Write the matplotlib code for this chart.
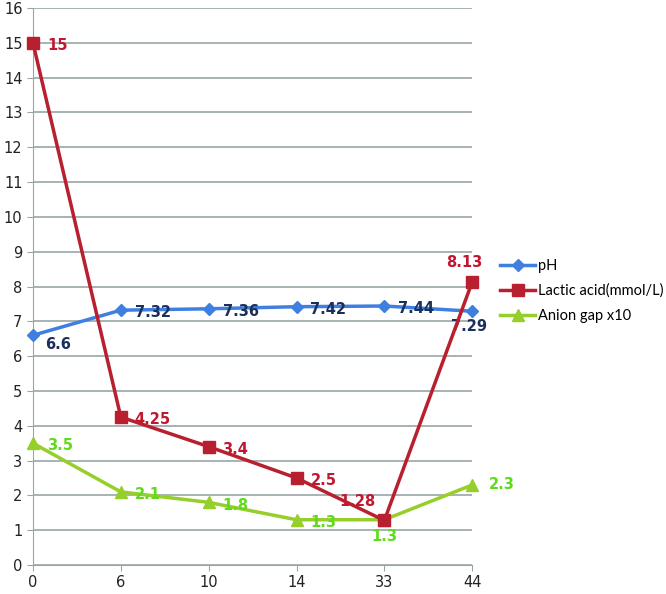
import matplotlib
matplotlib.use("Agg")
import matplotlib.pyplot as plt

categories = ["0", "6", "10", "14", "33", "44"]
ph = [6.6, 7.32, 7.36, 7.42, 7.44, 7.29]
lactic = [15, 4.25, 3.4, 2.5, 1.28, 8.13]
anion = [3.5, 2.1, 1.8, 1.3, 1.3, 2.3]
ph_labels = ["6.6", "7.32", "7.36", "7.42", "7.44", "7.29"]
lactic_labels = ["15", "4.25", "3.4", "2.5", "1.28", "8.13"]
anion_labels = ["3.5", "2.1", "1.8", "1.3", "1.3", "2.3"]

plt.rcParams['font.family'] = ['DejaVu Sans']

fig = plt.figure(figsize=(6.66, 5.94), dpi=100)
ax = fig.add_axes([0.0495, 0.0488, 0.6595, 0.9377])

x = list(range(len(categories)))
c_ph, c_lac, c_an = "#3F7FE0", "#B8202F", "#96CF2A"
t_ph, t_lac, t_an = "#1A2F5A", "#C01830", "#5EDB1A"

ax.plot(x, ph, color=c_ph, lw=2.5, marker="D", ms=6, label="pH", zorder=3, clip_on=False)
ax.plot(x, lactic, color=c_lac, lw=2.5, marker="s", ms=8, label="Lactic acid(mmol/L)", zorder=4, clip_on=False)
ax.plot(x, anion, color=c_an, lw=2.5, marker="^", ms=9, label="Anion gap x10", zorder=3, clip_on=False)

fs = 10.5
def lab(i, y, s, c, dx=14, dy=0, ha="left", va="center"):
    ax.annotate(s, (x[i], y), xytext=(dx, dy), textcoords="offset points",
                ha=ha, va=va, color=c, fontsize=fs, fontweight="bold")

# pH labels
lab(0, ph[0], ph_labels[0], t_ph, dx=9, dy=-7)
for i in range(1, 5):
    lab(i, ph[i], ph_labels[i], t_ph, dx=10, dy=-2)
lab(5, ph[5], ph_labels[5], t_ph, dx=-2, dy=-11, ha="center")

# Lactic labels
for i in range(0, 4):
    lab(i, lactic[i], lactic_labels[i], t_lac, dx=10, dy=-2)
lab(4, lactic[4], lactic_labels[4], t_lac, dx=-6, dy=14, ha="right")
lab(5, lactic[5], lactic_labels[5], t_lac, dx=-6, dy=14, ha="center")

# Anion labels
for i in range(0, 4):
    lab(i, anion[i], anion_labels[i], t_an, dx=10, dy=-2)
lab(4, anion[4], anion_labels[4], t_an, dx=0, dy=-12, ha="center")
lab(5, anion[5], anion_labels[5], t_an, dx=12, dy=0)

ax.set_xlim(0, 5)
ax.set_ylim(0, 16)
ax.set_yticks(range(0, 17))
ax.set_xticks(x)
ax.set_xticklabels(categories)
ax.grid(axis="y", color="#9AA5A5", lw=1.2)
ax.set_axisbelow(True)
for s in ["top", "right"]:
    ax.spines[s].set_visible(False)
ax.spines["left"].set_color("#9AA5A5")
ax.spines["bottom"].set_color("#9AA5A5")
ax.tick_params(axis="both", colors="#9AA5A5", labelcolor="#222222", labelsize=10.5, length=4)
ax.tick_params(axis="x", pad=3)

ax.legend(loc="center left", bbox_to_anchor=(500 / 666, 1 - 291 / 594),
          bbox_transform=fig.transFigure, frameon=False,
          prop={"family": ["Lato", "DejaVu Sans"], "size": 10.5},
          handlelength=2.4, handletextpad=0.2, labelspacing=0.75,
          borderaxespad=0, borderpad=0)

fig.savefig("out.png", dpi=100)
